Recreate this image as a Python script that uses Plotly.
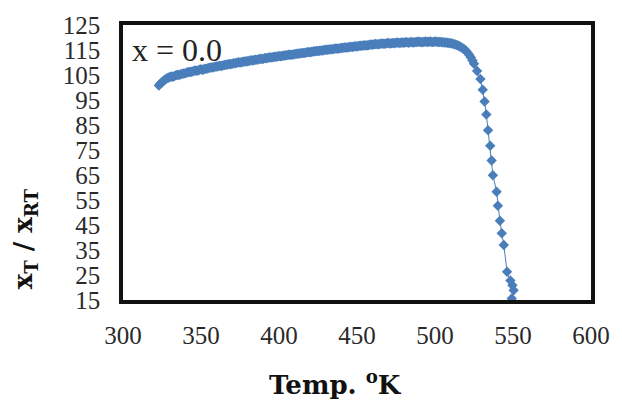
import plotly.graph_objects as go

# Temperature (K) and normalised susceptibility x_T / x_RT for x = 0.0
temp_k = [
    323, 324, 325, 326, 327, 328, 329, 330, 331, 332, 333, 334, 335, 336, 337, 338, 339, 340,
    341, 342, 343, 344, 345, 346, 347, 348, 349, 350, 351, 352, 353, 354, 355, 356, 357, 358,
    359, 360, 361, 362, 363, 364, 365, 366, 367, 368, 369, 370, 371, 372, 373, 374, 375, 376,
    377, 378, 379, 380, 381, 382, 383, 384, 385, 386, 387, 388, 389, 390, 391, 392, 393, 394,
    395, 396, 397, 398, 399, 400, 401, 402, 403, 404, 405, 406, 407, 408, 409, 410, 411, 412,
    413, 414, 415, 416, 417, 418, 419, 420, 421, 422, 423, 424, 425, 426, 427, 428, 429, 430,
    431, 432, 433, 434, 435, 436, 437, 438, 439, 440, 441, 442, 443, 444, 445, 446, 447, 448,
    449, 450, 451, 452, 453, 454, 455, 456, 457, 458, 459, 460, 461, 462, 463, 464, 465, 466,
    467, 468, 469, 470, 471, 472, 473, 474, 475, 476, 477, 478, 479, 480, 481, 482, 483, 484,
    485, 486, 487, 488, 489, 490, 491, 492, 493, 494, 495, 496, 497, 498, 499, 500, 501, 502,
    503, 504, 505, 506, 507, 508, 509, 510, 511, 512, 513, 514, 515, 516, 517, 518, 519, 520,
    521, 522, 523, 524, 525,
    527.0, 529.1, 530.6, 531.8, 532.9, 534.0, 535.4, 536.3, 537.1, 539.5,
    540.3, 541.6, 542.8, 544.1, 546.2, 548.3, 549.6, 550.4, 549.2,
]
chi_ratio = [
    100.8, 101.6, 102.0, 102.7, 103.2, 103.6, 103.9, 104.2, 104.4, 104.3, 104.6, 104.9, 105.1, 105.0, 105.3, 105.5, 105.6, 105.7,
    106.0, 106.2, 106.2, 106.3, 106.5, 106.8, 106.7, 106.8, 107.1, 107.3, 107.0, 107.4, 107.5, 107.6, 107.8, 108.0, 108.0, 108.1,
    108.3, 108.4, 108.5, 108.7, 108.6, 108.8, 109.0, 109.1, 109.2, 109.4, 109.3, 109.5, 109.7, 109.7, 109.9, 110.1, 110.0, 110.1,
    110.3, 110.4, 110.5, 110.5, 110.7, 110.9, 110.8, 111.0, 111.1, 111.1, 111.3, 111.5, 111.4, 111.5, 111.8, 111.7, 111.9, 112.1,
    112.0, 112.1, 112.3, 112.3, 112.4, 112.6, 112.5, 112.6, 112.8, 112.8, 112.9, 113.1, 113.1, 113.1, 113.2, 113.3, 113.5, 113.5,
    113.6, 113.7, 113.8, 113.8, 113.9, 114.1, 114.2, 114.1, 114.3, 114.4, 114.5, 114.6, 114.6, 114.7, 114.8, 114.8, 115.0, 115.1,
    115.1, 115.2, 115.3, 115.3, 115.4, 115.6, 115.6, 115.5, 115.7, 115.8, 115.9, 116.0, 116.0, 116.0, 116.2, 116.3, 116.2, 116.4,
    116.5, 116.4, 116.6, 116.7, 116.7, 116.8, 116.9, 116.8, 116.9, 117.1, 117.2, 117.1, 117.3, 117.4, 117.3, 117.3, 117.5, 117.6,
    117.5, 117.5, 117.7, 117.8, 117.6, 117.7, 117.8, 117.7, 117.9, 118.0, 117.8, 117.9, 118.0, 117.9, 118.1, 118.1, 117.9, 118.1,
    118.2, 118.0, 118.1, 118.2, 118.3, 118.3, 118.2, 118.1, 118.3, 118.4, 118.2, 118.3, 118.4, 118.2, 118.2, 118.4, 118.3, 118.2,
    118.2, 118.2, 118.1, 118.0, 118.0, 117.9, 117.8, 117.7, 117.6, 117.4, 117.2, 117.0, 116.7, 116.4, 116.0, 115.6, 115.2, 114.6,
    113.8, 113.0, 112.0, 110.8, 109.5,
    106.6, 103.4, 99.1, 94.4, 89.2, 82.9, 76.7, 70.8, 64.9, 58.3,
    52.7, 46.7, 41.7, 37.0, 26.3, 22.8, 20.9, 18.9, 15.6,
]

x_ticks = [300, 350, 400, 450, 500, 550, 600]
y_ticks = [15, 25, 35, 45, 55, 65, 75, 85, 95, 105, 115, 125]

blue = "#4a7ebb"
tick_font = dict(family="Liberation Serif", size=25, color="#2a2a2a")

fig = go.Figure()
fig.add_trace(go.Scatter(
    x=temp_k, y=chi_ratio, mode="lines+markers",
    line=dict(color=blue, width=1),
    marker=dict(symbol="diamond", size=8, color=blue),
    showlegend=False,
))

fig.update_xaxes(
    range=[300, 600], tickvals=x_ticks, ticktext=[str(v) for v in x_ticks],
    showgrid=False, zeroline=False, showline=True, linewidth=3.5,
    linecolor="#111111", mirror=True, ticks="", tickfont=tick_font,
    ticklabelstandoff=10,
)
fig.update_yaxes(
    range=[15, 125], tickvals=y_ticks, ticktext=[str(v) for v in y_ticks],
    showgrid=False, zeroline=False, showline=True, linewidth=3.5,
    linecolor="#111111", mirror=True, ticks="", tickfont=tick_font,
    ticklabelstandoff=14,
)

# Plot area in page pixels, used to place the titles
left, right, top, bottom = 123, 25, 20, 105
pw, ph = 622 - left - right, 405 - top - bottom


def page_to_paper(px, py):
    return (px - left) / pw, 1 - (py - top) / ph


lx, ly = page_to_paper(130, 45)
fig.add_annotation(
    x=lx, y=ly, xref="paper", yref="paper", xanchor="left", yanchor="middle",
    text="x = 0.0", showarrow=False,
    font=dict(family="Liberation Serif", size=32, color="#222222"),
)

tx, ty = page_to_paper(338, 384)
fig.add_annotation(
    x=tx, y=ty, xref="paper", yref="paper", xanchor="center", yanchor="middle",
    showarrow=False, text="<b>Temp. <sup>o</sup>K</b>",
    font=dict(family="DejaVu Serif", size=26, color="#111111"),
)

yx, yy = page_to_paper(23, 238)
fig.add_annotation(
    x=yx, y=yy, xref="paper", yref="paper", xanchor="center", yanchor="middle",
    showarrow=False, textangle=-90,
    text="<b>x<sub>T</sub> / x<sub>RT</sub></b>",
    font=dict(family="DejaVu Serif", size=26, color="#111111"),
)

fig.update_layout(
    width=622, height=405,
    margin=dict(l=left, r=right, t=top, b=bottom),
    paper_bgcolor="white", plot_bgcolor="white",
)

fig.write_html("out.html")
